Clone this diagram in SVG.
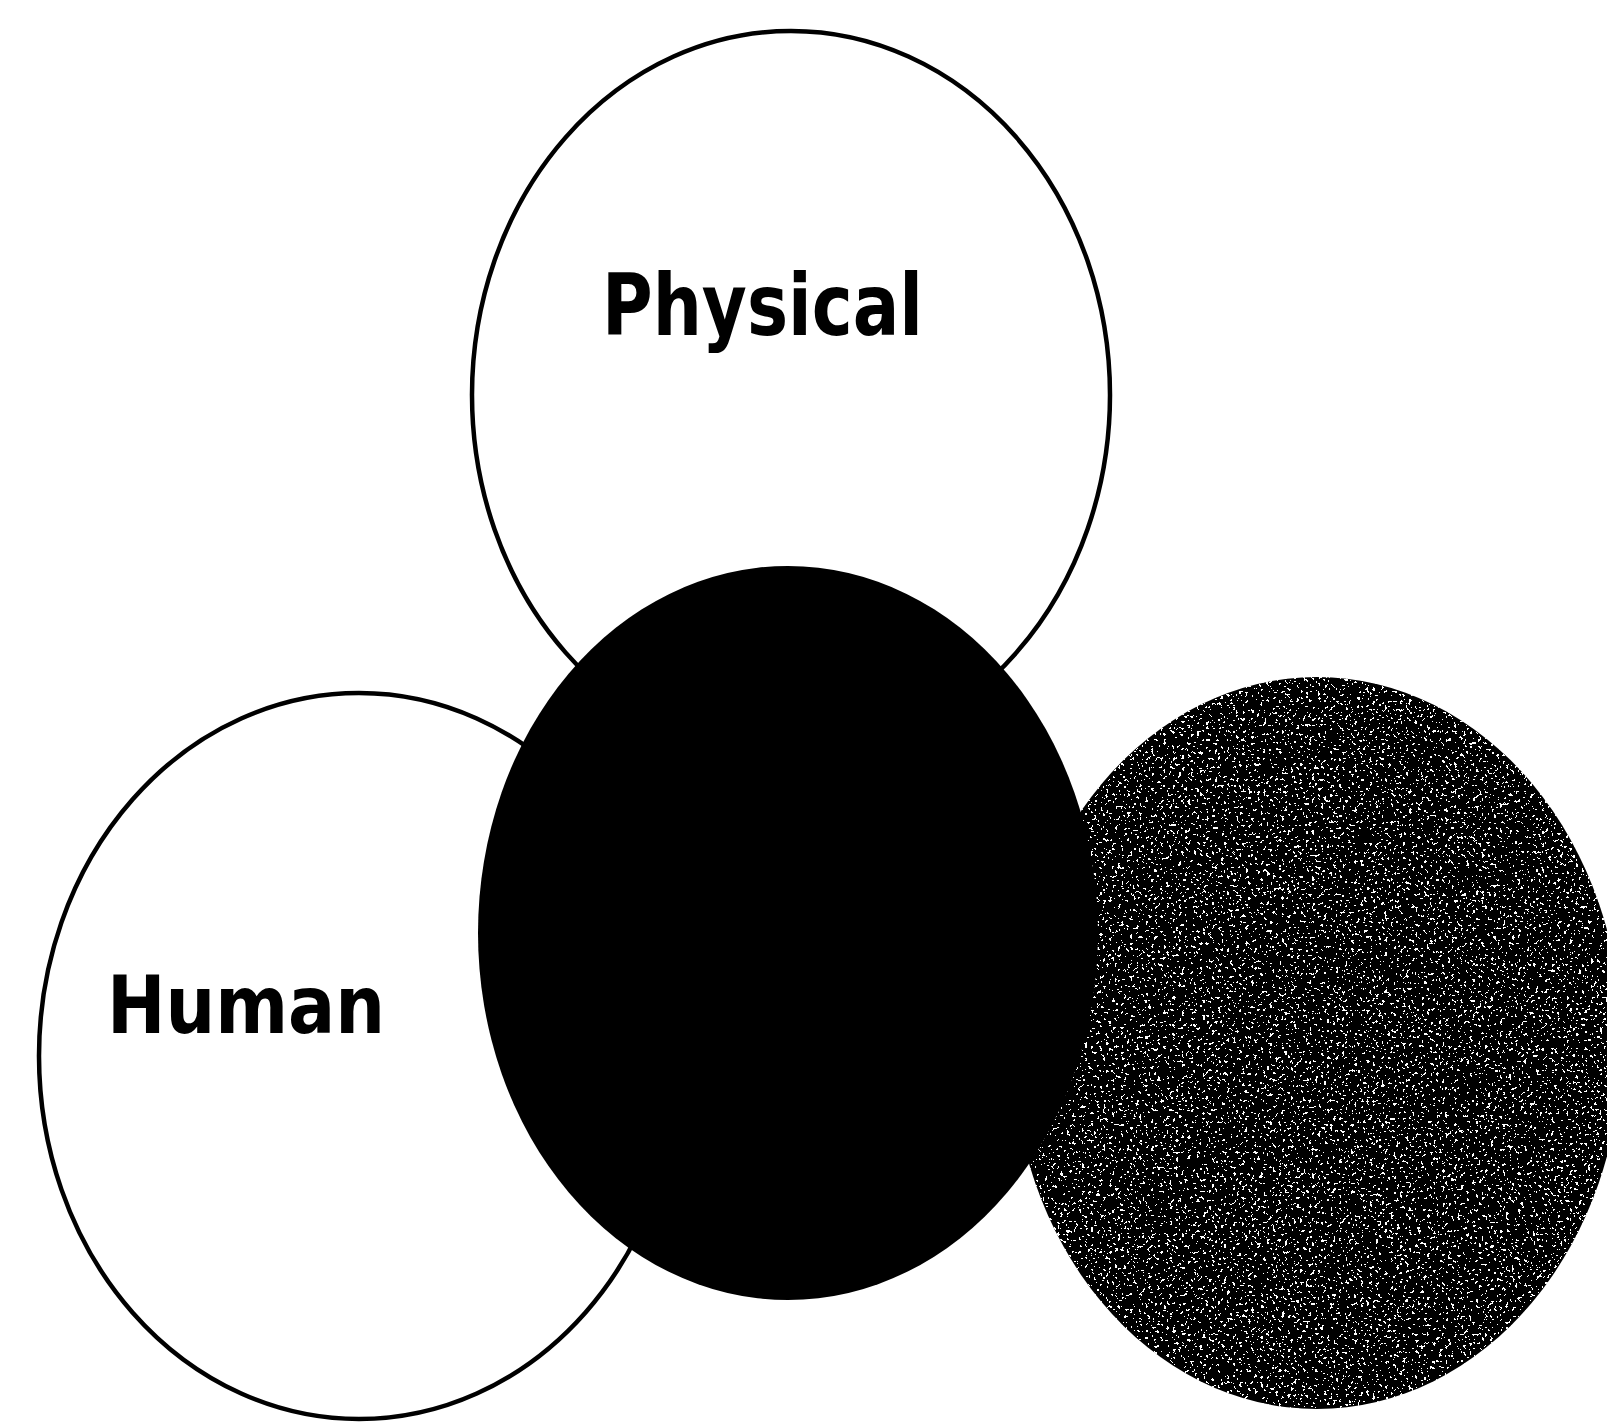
<svg xmlns="http://www.w3.org/2000/svg" width="1607" height="1423" viewBox="0 0 1607 1423">
<style>
.ring{fill:#fff;stroke:#000;stroke-width:4.5}
.lbl{font-family:"DejaVu Sans","Liberation Sans",sans-serif;font-weight:bold;fill:#000}
</style>
<defs>
<filter id="speck" x="0" y="0" width="100%" height="100%">
<feTurbulence type="fractalNoise" baseFrequency="0.33" numOctaves="2" seed="7" result="n"/>
<feColorMatrix in="n" type="matrix" values="0 0 0 0 1  0 0 0 0 1  0 0 0 0 1  3 0 0 0 -1.45" result="w"/>
<feComponentTransfer in="w" result="t"><feFuncA type="discrete" tableValues="0 1"/></feComponentTransfer>
<feComposite in="t" in2="SourceGraphic" operator="in" result="dots"/>
<feMerge><feMergeNode in="SourceGraphic"/><feMergeNode in="dots"/></feMerge>
</filter>
</defs>
<rect width="1607" height="1423" fill="#fff"/>
<g id="physical">
<ellipse class="ring" cx="791" cy="395" rx="319" ry="364"/>
<text class="lbl" x="602" y="335" font-size="86" textLength="321" lengthAdjust="spacingAndGlyphs">Physical</text>
</g>
<g id="human">
<ellipse class="ring" cx="359" cy="1056" rx="320" ry="363"/>
<text class="lbl" x="107" y="1033" font-size="80" textLength="278" lengthAdjust="spacingAndGlyphs">Human</text>
</g>
<g id="speckled">
<ellipse cx="1317" cy="1043" rx="305" ry="366" fill="#000" filter="url(#speck)"/>
</g>
<g id="center">
<ellipse cx="788" cy="933" rx="310" ry="367" fill="#000"/>
</g>
<g id="connectors"/>
</svg>
